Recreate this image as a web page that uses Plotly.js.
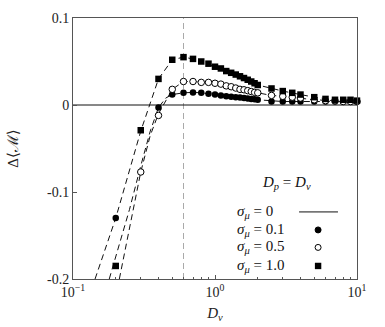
<!DOCTYPE html>
<html><head><meta charset="utf-8">
<script src="https://cdn.plot.ly/plotly-3.0.1.min.js"></script>
<style>html,body{margin:0;padding:0;background:#fff}#chart{width:385px;height:327px}</style>
</head><body><div id="chart"></div>
<script>
// ---- data ----
const dv = [0.2,0.3,0.4,0.5,0.6,0.7,0.8,0.9,1.0,1.1,1.2,1.3,1.4,1.5,1.6,1.7,1.8,1.9,2.0,2.5,3,3.5,4,5,6,7,8,9,10];
const sigma01 = [-0.130,null,-0.003,0.012,0.014,0.0145,0.014,0.013,0.012,0.011,0.010,0.0095,0.009,0.0085,0.008,0.0075,0.007,0.0065,0.006,0.004,0.004,0.004,0.004,0.004,0.004,0.004,0.004,0.004,0.004];
const sigma05 = [null,-0.077,-0.012,0.018,0.027,0.027,0.026,0.026,0.025,0.024,0.022,0.021,0.0195,0.018,0.0175,0.0165,0.0155,0.0145,0.014,0.011,0.010,0.009,0.008,0.006,0.005,0.005,0.004,0.004,0.004];
const sigma10 = [-0.185,-0.029,0.030,0.052,0.055,0.053,0.050,0.0475,0.044,0.042,0.039,0.037,0.035,0.033,0.031,0.029,0.027,0.025,0.023,0.019,0.016,0.014,0.012,0.009,0.007,0.006,0.006,0.006,0.005];
const sigma0X = [0.1, 10];
const sigma0Y = [0, 0];
// dashed guide curves
const fit10X = [0.143,0.2,0.3,0.4,0.5,0.6,0.7,0.8,1.0,1.2,1.5,2.0,3,4,5,7,10];
const fit10Y = [-0.2,-0.13,-0.03,0.03,0.052,0.055,0.053,0.050,0.044,0.039,0.033,0.023,0.016,0.012,0.009,0.006,0.005];
const fit01X = [0.18,0.25,0.3,0.35,0.4,0.45,0.5,0.6,0.7,0.8,1.0,1.2,1.5,2,3,5,10];
const fit01Y = [-0.2,-0.12,-0.07,-0.03,-0.003,0.008,0.012,0.014,0.0145,0.014,0.012,0.010,0.0085,0.006,0.004,0.004,0.004];
const fit05X = [0.212,0.25,0.3,0.35,0.4,0.5,0.6,0.7,0.8,1.0,1.2,1.5,2,2.5,3,4,5,7,10];
const fit05Y = [-0.2,-0.14,-0.077,-0.035,-0.010,0.018,0.027,0.027,0.026,0.025,0.022,0.018,0.014,0.011,0.010,0.008,0.006,0.005,0.004];
const refLineX = 0.6;
const xTickVals = [0.1, 1, 10];
const xTickText = ['10<sup>−1</sup>', '10<sup>0</sup>', '10<sup>1</sup>'];
const xMinorVals = [0.2,0.3,0.4,0.5,0.6,0.7,0.8,0.9,2,3,4,5,6,7,8,9];
const yTickVals = [-0.2, -0.1, 0, 0.1];
const yTickText = ['-0.2', '-0.1', '0', '0.1'];
const legendTitle = '<i>D<sub>p</sub></i> = <i>D<sub>v</sub></i>';
const legendLabels = ['<i>σ<sub>μ</sub></i> = 0', '<i>σ<sub>μ</sub></i> = 0.1', '<i>σ<sub>μ</sub></i> = 0.5', '<i>σ<sub>μ</sub></i> = 1.0'];

// ---- chart ----
const FONT = 'Liberation Serif, DejaVu Serif, serif';
const dashStyle = '6px,4px';
const MS = 6.5;
const fitLine = (x, y) => ({x, y, type:'scatter', mode:'lines', line:{color:'#111', width:1, dash:dashStyle}, hoverinfo:'skip', showlegend:false});
const traces = [
  fitLine(fit10X, fit10Y),
  fitLine(fit01X, fit01Y),
  fitLine(fit05X, fit05Y),
  {x:sigma0X, y:sigma0Y, type:'scatter', mode:'lines', line:{color:'#111', width:1}, showlegend:false},
  {x:dv, y:sigma01, type:'scatter', mode:'markers', cliponaxis:false, marker:{symbol:'circle', size:MS, color:'#000'}, showlegend:false},
  {x:dv, y:sigma05, type:'scatter', mode:'markers', cliponaxis:false, marker:{symbol:'circle', size:MS, color:'#fff', line:{color:'#000', width:1}}, showlegend:false},
  {x:dv, y:sigma10, type:'scatter', mode:'markers', cliponaxis:false, marker:{symbol:'square', size:MS, color:'#000'}, showlegend:false}
];

const L = {x:0.57, title:{x:0.75, y:0.368}, ys:[0.257,0.188,0.121,0.05], mx:0.863};
const annotations = [
  {xref:'paper', yref:'paper', x:L.title.x, y:L.title.y, text:legendTitle, showarrow:false, xanchor:'center', yanchor:'middle', font:{family:FONT, size:15, color:'#111'}}
].concat(legendLabels.map((t,i)=>({xref:'paper', yref:'paper', x:L.x, y:L.ys[i], text:t, showarrow:false, xanchor:'left', yanchor:'middle', font:{family:FONT, size:15, color:'#111'}})));

const shapes = [
  {type:'line', xref:'x', yref:'paper', x0:refLineX, x1:refLineX, y0:0, y1:1, line:{color:'#aaa', width:1, dash:dashStyle}, layer:'below'},
  {type:'line', xref:'paper', yref:'paper', x0:0.796, x1:0.933, y0:L.ys[0], y1:L.ys[0], line:{color:'#111', width:1}},
  {type:'circle', xref:'paper', yref:'paper', xsizemode:'pixel', ysizemode:'pixel', xanchor:L.mx, yanchor:L.ys[1], x0:-3, x1:3, y0:-3, y1:3, fillcolor:'#000', line:{color:'#000', width:1}},
  {type:'circle', xref:'paper', yref:'paper', xsizemode:'pixel', ysizemode:'pixel', xanchor:L.mx, yanchor:L.ys[2], x0:-3, x1:3, y0:-3, y1:3, fillcolor:'#fff', line:{color:'#000', width:1}},
  {type:'rect', xref:'paper', yref:'paper', xsizemode:'pixel', ysizemode:'pixel', xanchor:L.mx, yanchor:L.ys[3], x0:-3.2, x1:3.2, y0:-3.2, y1:3.2, fillcolor:'#000', line:{color:'#000', width:0}}
];

const axisCommon = {showgrid:false, zeroline:false, showline:true, linecolor:'#555', linewidth:1, mirror:true, ticks:'inside', tickcolor:'#555', tickfont:{family:FONT, size:14, color:'#222'}};
const layout = {
  width:385, height:327,
  margin:{l:73, r:28, t:18, b:48},
  paper_bgcolor:'#fff', plot_bgcolor:'#fff',
  showlegend:false,
  font:{family:FONT, color:'#222'},
  xaxis:Object.assign({}, axisCommon, {
    type:'log', range:[-1,1], tickmode:'array', tickvals:xTickVals, ticktext:xTickText, ticklen:4,
    minor:{tickmode:'array', tickvals:xMinorVals, ticks:'inside', ticklen:2.5, tickcolor:'#555', showgrid:false},
    title:{text:'<i>D<sub>v</sub></i>', font:{family:FONT, size:15, color:'#222'}, standoff:8}
  }),
  yaxis:Object.assign({}, axisCommon, {
    range:[-0.2, 0.1], tickmode:'array', tickvals:yTickVals, ticktext:yTickText, ticklen:4,
    title:{text:'Δ⟨ℳ⟩', font:{family:FONT, size:15, color:'#222'}, standoff:24}
  }),
  annotations, shapes
};
Plotly.newPlot('chart', traces, layout, {staticPlot:true, displayModeBar:false});
</script></body></html>
